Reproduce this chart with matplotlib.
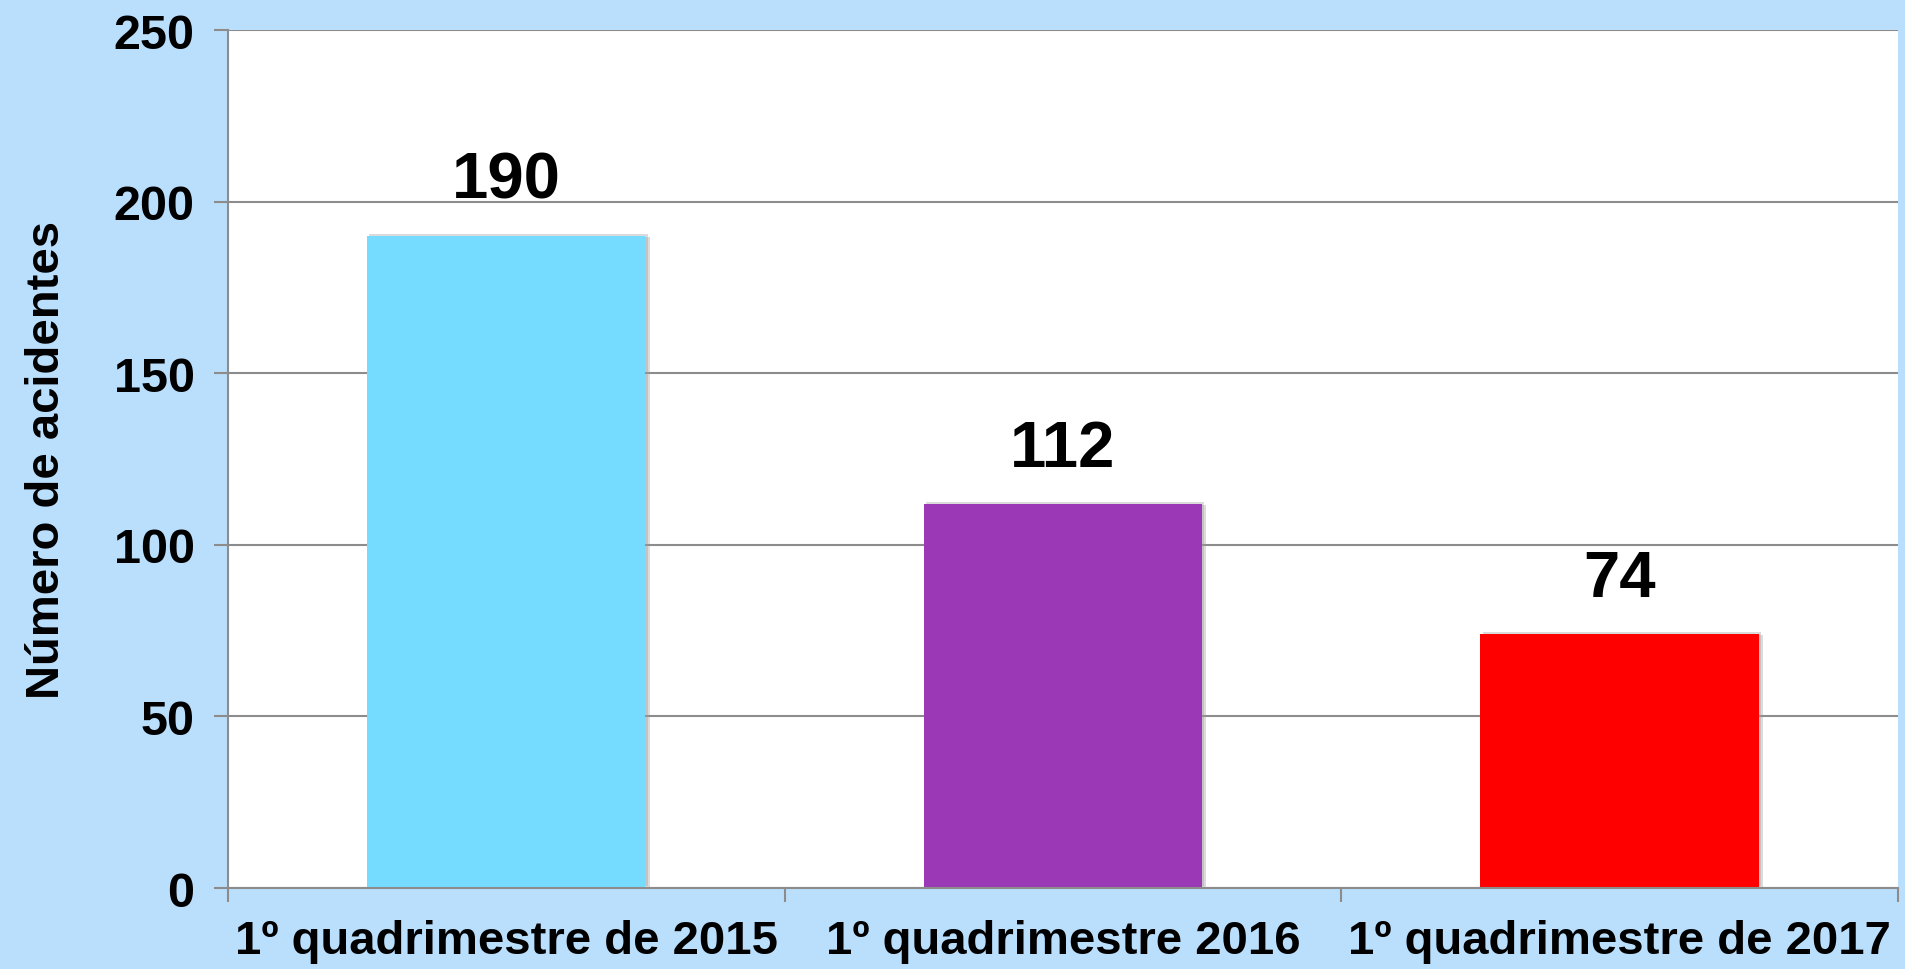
import matplotlib
matplotlib.use("Agg")
import matplotlib.pyplot as plt
import matplotlib.patheffects as pe

plt.rcParams["font.family"] = ["Liberation Sans", "DejaVu Sans"]
plt.rcParams["font.weight"] = "bold"

categories = ["1º quadrimestre de 2015", "1º quadrimestre 2016", "1º quadrimestre de 2017"]
values = [190, 112, 74]
bar_colors = ["#75DBFF", "#9A38B5", "#FF0000"]
y_ticks = [0, 50, 100, 150, 200, 250]

BG = "#BADFFD"
GRID = "#8C8C8C"

fig = plt.figure(figsize=(19.06, 9.70), dpi=100, facecolor=BG)
ax = fig.add_axes([0.1196, 0.0835, 0.8762, 0.8845])
ax.set_facecolor("white")

x = list(range(len(categories)))
bars = ax.bar(x, values, width=0.5, color=bar_colors, zorder=3)
# soft drop shadow like the office chart
for b in bars:
    b.set_path_effects([
        pe.SimplePatchShadow(offset=(3, -1), shadow_rgbFace="#999999", alpha=0.35),
        pe.SimplePatchShadow(offset=(1.5, 1.5), shadow_rgbFace="#999999", alpha=0.35),
        pe.Normal(),
    ])

for xi, v in zip(x, values):
    ax.annotate(str(v), (xi, v), xytext=(0, 18), textcoords="offset points",
                ha="center", va="bottom", fontsize=47, fontweight="bold", zorder=4)

ax.set_xlim(-0.5, 2.5)
ax.set_ylim(0, 250)
ax.set_yticks(y_ticks)
ax.yaxis.grid(True, color=GRID, lw=1.5, zorder=0)
ax.set_xticks(x)
ax.set_xticklabels(categories)
ax.set_xticks([-0.5, 0.5, 1.5, 2.5], minor=True)
ax.tick_params(axis="x", which="major", length=0, pad=22, labelsize=34)
ax.tick_params(axis="x", which="minor", length=10, width=1.5, color=GRID)
ax.tick_params(axis="y", length=10, width=1.5, color=GRID, labelsize=35, pad=14)

for s in ["top", "right"]:
    ax.spines[s].set_visible(False)
for s in ["left", "bottom"]:
    ax.spines[s].set_color(GRID)
    ax.spines[s].set_linewidth(1.5)
    ax.spines[s].set_zorder(5)

ax.set_ylabel("Número de acidentes", fontsize=34, fontweight="bold", labelpad=32)

fig.savefig("out.png", dpi=100, facecolor=BG)
